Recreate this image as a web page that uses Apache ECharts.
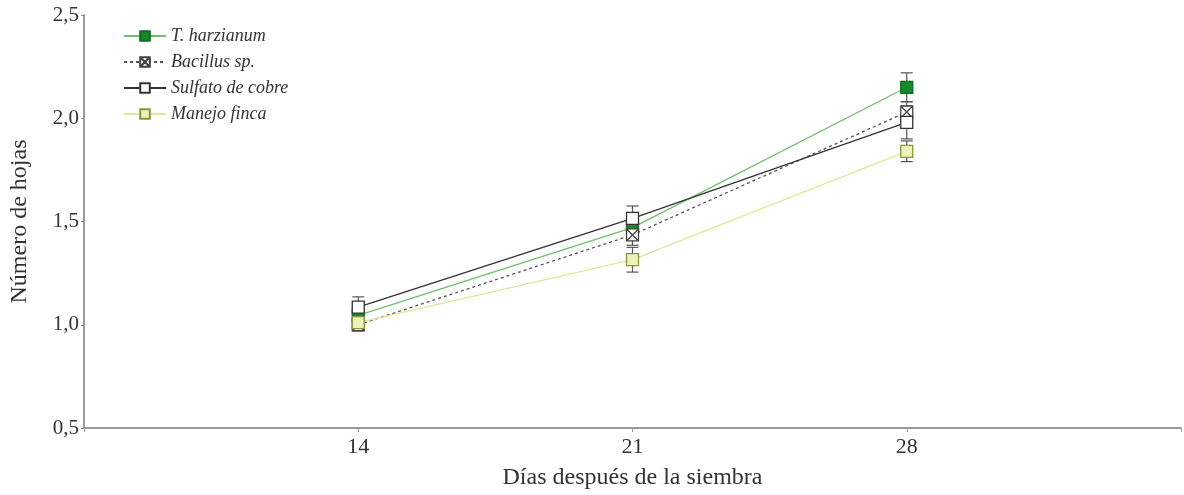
<!DOCTYPE html>
<html><head><meta charset="utf-8">
<script src="https://cdn.jsdelivr.net/npm/echarts@6/dist/echarts.min.js"></script>
<style>html,body{margin:0;padding:0;background:#fff}#c{width:1184px;height:495px}</style>
</head><body><div id="c"></div>
<script>
const days = [14, 21, 28];
const seriesNames = ['T. harzianum', 'Bacillus sp.', 'Sulfato de cobre', 'Manejo finca'];
const tHarzianum = [1.045, 1.47, 2.15];
const bacillus = [1.0, 1.435, 2.03];
const sulfato = [1.085, 1.515, 1.98];
const manejo = [1.01, 1.315, 1.84];
const errTHarzianum = [0.04, 0.05, 0.07];
const errBacillus = [0.03, 0.05, 0.05];
const errSulfato = [0.05, 0.06, 0.08];
const errManejo = [0.03, 0.06, 0.05];
const yTicks = [0.5, 1.0, 1.5, 2.0, 2.5];

const values = [tHarzianum, bacillus, sulfato, manejo];
const errs = [errTHarzianum, errBacillus, errSulfato, errManejo];
const lineColors = ['#6cbf6c', '#555555', '#333333', '#dde89a'];
const lineTypes = ['solid', [3, 3], 'solid', 'solid'];
const symbols = ['rect', 'path://M0,0H10V10H0Z M0,0L10,10 M10,0L0,10', 'rect', 'rect'];
const fills = ['#168a2a', '#ffffff', '#ffffff', '#eef2b8'];
const borders = ['#0f6a1e', '#444444', '#333333', '#8c9440'];

const series = [];
values.forEach((vals, i) => {
  const pts = days.map((d, j) => [d, vals[j], errs[i][j]]);
  series.push({
    type: 'custom', name: seriesNames[i] + '_err', silent: true, z: 1,
    data: pts,
    renderItem: (params, api) => {
      const x = api.value(0), y = api.value(1), e = api.value(2);
      const top = api.coord([x, y + e]);
      const bot = api.coord([x, y - e]);
      const w = 6;
      const st = { stroke: '#555', lineWidth: 1.2 };
      return { type: 'group', children: [
        { type: 'line', shape: { x1: top[0], y1: top[1], x2: bot[0], y2: bot[1] }, style: st },
        { type: 'line', shape: { x1: top[0] - w, y1: top[1], x2: top[0] + w, y2: top[1] }, style: st },
        { type: 'line', shape: { x1: bot[0] - w, y1: bot[1], x2: bot[0] + w, y2: bot[1] }, style: st }
      ]};
    }
  });
});
values.forEach((vals, i) => {
  series.push({
    type: 'line', name: seriesNames[i], z: 3,
    data: days.map((d, j) => [d, vals[j]]),
    symbol: symbols[i], symbolSize: 12,
    lineStyle: { color: lineColors[i], width: 1.3, type: lineTypes[i] },
    itemStyle: { color: fills[i], borderColor: borders[i], borderWidth: 1.3 },
    emphasis: { disabled: true }
  });
});

const chart = echarts.init(document.getElementById('c'));
chart.setOption({
  animation: false,
  backgroundColor: '#fff',
  grid: { left: 81, right: 1, top: 15, bottom: 62, containLabel: false },
  legend: {
    data: seriesNames, orient: 'vertical', left: 118, top: 22,
    itemWidth: 42, itemHeight: 12, itemGap: 8,
    textStyle: { fontFamily: 'Liberation Serif', fontStyle: 'italic', fontSize: 18, color: '#333' }
  },
  xAxis: {
    type: 'value', min: 7, max: 35, interval: 7,
    name: 'Días después de la siembra', nameLocation: 'middle', nameGap: 38,
    nameTextStyle: { fontFamily: 'Liberation Serif', fontSize: 24, color: '#333' },
    axisLine: { lineStyle: { color: '#9a9a9a', width: 2 } },
    axisTick: { show: true, length: 4, lineStyle: { color: '#9a9a9a' } },
    axisLabel: {
      fontFamily: 'Liberation Serif', fontSize: 22, color: '#333', margin: 8,
      formatter: v => days.includes(v) ? String(v) : ''
    },
    splitLine: { show: false }
  },
  yAxis: {
    type: 'value', min: yTicks[0], max: yTicks[yTicks.length - 1], interval: 0.5,
    name: 'Número de hojas', nameLocation: 'middle', nameGap: 52, nameRotate: 90,
    nameTextStyle: { fontFamily: 'Liberation Serif', fontSize: 24, color: '#333' },
    axisLine: { show: true, lineStyle: { color: '#9a9a9a', width: 2 } },
    axisTick: { show: true, length: 3, lineStyle: { color: '#9a9a9a' } },
    axisLabel: {
      fontFamily: 'Liberation Serif', fontSize: 21, color: '#333', margin: 5,
      formatter: v => v.toFixed(1).replace('.', ',')
    },
    splitLine: { show: false }
  },
  series: series
});
</script></body></html>
